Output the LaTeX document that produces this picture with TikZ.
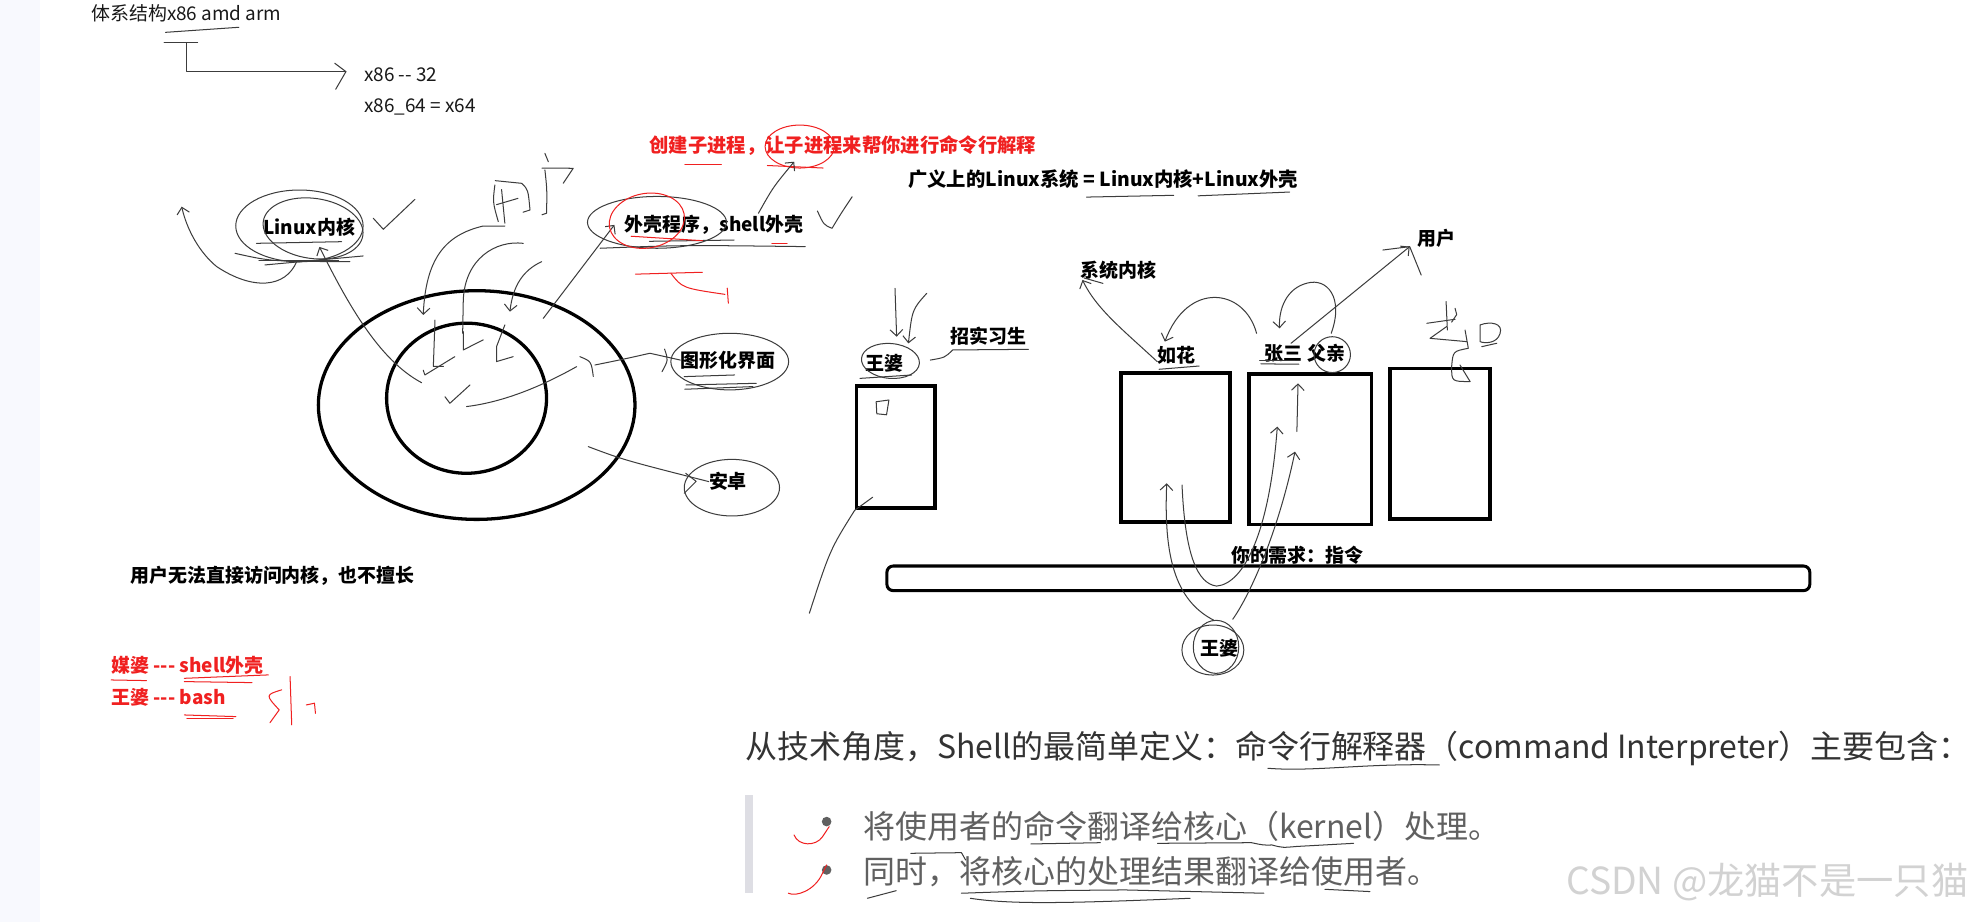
\documentclass[tikz,border=0pt]{standalone}
\usepackage{fontspec}
\setmainfont{Noto Sans CJK SC}
\usetikzlibrary{arrows.meta, positioning, calc}
\definecolor{inkred}{RGB}{240,32,32}
\definecolor{pencil}{RGB}{60,60,60}
\definecolor{margin}{RGB}{248,249,254}
\definecolor{bodytext}{RGB}{51,51,51}
\definecolor{listtext}{RGB}{96,96,96}
\definecolor{quotebar}{RGB}{222,222,228}
\definecolor{wmark}{RGB}{210,210,210}
\newcommand{\fsz}[1]{\fontsize{#1}{#1}\selectfont}
\tikzset{
  lbl/.style={font=\bfseries\fsz{15}, inner sep=0pt, anchor=west},
  redlbl/.style={lbl, text=inkred},
  note/.style={font=\fsz{15}, inner sep=0pt, anchor=west, text=black!90},
  pen/.style={draw=pencil, line width=0.8pt, line cap=round, line join=round},
  redpen/.style={draw=inkred, line width=0.8pt, line cap=round, line join=round},
  heavy/.style={draw=black, line width=2.6pt},
  boxnode/.style={draw=black, line width=3pt, inner sep=0pt},
  barb/.style={-{Straight Barb[length=5pt, width=10pt]}},
}

\begin{document}
\begin{tikzpicture}[x=1pt, y=-1pt]
  \fill[white] (0,0) rectangle (1568,730);
  \fill[margin] (0,0) rectangle (32,730);
  \useasboundingbox (0,0) rectangle (1568,730);

  \node[note] (arch) at (72,10.6) {体系结构x86 amd arm};
  \node[note] (x32) at (288,59.4) {x86 {-}{-} 32};
  \node[note] (x64) at (288,84.4) {x86\_64 = x64};
  \coordinate (fork) at (147.7,33.8);
  \coordinate (archtip) at (273.8,56.7);
  \draw[pen] (131,25.6) -- (189,21.6);
  \draw[pen] (130,33.8) -- (156.5,33.8);
  \draw[pen] (fork) |- (archtip);
  \draw[pen] (265,50.1) -- (archtip) -- (265.7,70.7);

  \node[lbl] (kern) at (208.4,180) {Linux内核};
  \draw[pen] (237,178.8) ellipse [x radius=50.4, y radius=28.4];
  \draw[pen] (247.8,180.8) ellipse [x radius=39.8, y radius=23.8, rotate=-8];
  \draw[pen] (203,192.6) -- (270.4,191.3);
  \draw[pen] (186,200.5) .. controls (215,207) .. (277,207);
  \draw[pen] (209.7,209.7) -- (287.5,202.6);
  \draw[pen] (205,206) -- (268,206);
  \draw[pen, barb] (234.8,207.1) .. controls (226,228) and (200,230) .. (171.5,211) .. controls (158,200) and (148,182) .. (143.8,163.6);
  \draw[pen] (295.5,172.8) -- (303.4,181.5) -- (328.4,157.8);

  \draw[pen] (391.7,146.4) .. controls (390,160) .. (394.4,175.4);
  \draw[pen] (392,143) -- (412.9,145.1) .. controls (418,150) .. (419.5,166.2) -- (414,168);
  \draw[pen] (393,162) -- (410,157);
  \draw[pen] (397,150) -- (399.6,176.7);
  \draw[pen] (431.3,121.4) -- (434,128);
  \draw[pen] (429,133) -- (453.7,133.2) -- (445.8,145.1);
  \draw[pen] (431.3,134.5) .. controls (433,150) .. (432.6,168.8) -- (429,170);

  \draw[heavy] (377.3,320.6) ellipse [x radius=125.3, y radius=90.5];
  \draw[heavy] (369.3,315.2) ellipse [x radius=63.3, y radius=59.4];
  \draw[pen, barb] (399.6,178.9) -- (382.5,178.9) .. controls (352,186) and (337,205) .. (335,249.3);
  \draw[pen] (414.2,192.6) .. controls (392,190) and (368,205) .. (366.7,237.4) -- (366.2,263.8);
  \draw[pen, barb] (428.7,207.1) .. controls (414,214) and (406,226) .. (403.6,246.7);
  \draw[pen, barb] (333.7,302.9) .. controls (300,285) and (275,240) .. ([xshift=8pt, yshift=-8pt]kern.south);
  \draw[pen] (344.3,253.3) -- (343,290) -- (351,290);
  \draw[pen] (335,293) -- (336.3,296.8) -- (360,282.3);
  \draw[pen] (366.7,262.5) -- (366.7,277) -- (382.5,269);
  \draw[pen] (399.6,257.2) -- (393,274.4) -- (393,286.2) -- (406.2,282.3);
  \draw[pen] (352.2,314) -- (356.1,319.2) -- (372,304.7);

  \node[lbl] (gui) at (538.5,285) {图形化界面};
  \draw[pen] (577.6,286.2) ellipse [x radius=46.6, y radius=22.4];
  \draw[pen] (541.5,298.1) -- (581.4,296.8);
  \draw[pen] (543,304.7) -- (598.6,303.4);
  \draw[pen] (542,308.1) -- (596,306);
  \draw[pen] (369.3,321.8) .. controls (400,318) and (430,305) .. (456.4,290.2);
  \draw[pen] (459,282.3) .. controls (468,286) .. (469.6,298);
  \draw[pen] (470.9,288.9) .. controls (495,284) .. (514.4,279.6) -- (gui.west);
  \draw[pen] (526,276.3) .. controls (529,285) .. (524,294.2);

  \node[lbl] (andr) at (561,381.2) {安卓};
  \draw[pen] (579.3,386) ellipse [x radius=37.7, y radius=22.4];
  \draw[pen] (465.6,353.5) .. controls (493.5,364) .. (andr.west);
  \draw[pen] (542.7,374.6) -- (551,381) -- (541.5,390.5);

  \node[lbl] (shell) at (494.3,178) {外壳程序，shell外壳};
  \draw[pen] (520,176) ellipse [x radius=55, y radius=20.5];
  \draw[pen] (475,196.5) .. controls (540,194) .. (637.4,195.2);
  \draw[pen] (514,191) -- (581,190);
  \draw[pen, barb] (430,252) -- ([xshift=-8pt]shell.west);
  \draw[redpen] (512,174.7) ellipse [x radius=30, y radius=21.6, rotate=10];
  \draw[redpen] (499.6,187) -- (556,190.5);
  \draw[redpen] (611,193) -- (623,193);
  \draw[redpen] (503,217) -- (556,215.5);
  \draw[redpen] (531,216.3) .. controls (540,228) .. (573.8,233);
  \draw[redpen] (575.6,228) -- (576.5,240);
  \draw[pen] (647,167) .. controls (652,178) .. (658.6,180.7) .. controls (665,170) .. (674.5,155.7);

  \node[redlbl, font=\bfseries\fsz{15.3}] (spawn) at (513.8,115.6) {创建子进程，让子进程来帮你进行命令行解释};
  \draw[redpen] (633,116) ellipse [x radius=27.4, y radius=17];
  \draw[redpen] (542,130) -- (571,130);
  \draw[redpen] (607.4,131) -- (651.5,133);
  \draw[pen, barb] (600.3,168.8) .. controls (612,148) .. (628.6,128);

  \node[lbl, font=\bfseries\fsz{15.3}] (defn) at (718.7,142) {广义上的Linux系统 = Linux内核+Linux外壳};
  \draw[pen] (860,156) -- (929,154.6);
  \draw[pen] (948.3,155) -- (1020.8,152);

  \node[lbl] (nouser) at (103,455.9) {用户无法直接访问内核，也不擅长};
  \node[redlbl] (mp) at (88,526.3) {媒婆 {-}{-}{-} shell外壳};
  \node[redlbl] (wpb) at (88,551.9) {王婆 {-}{-}{-} bash};
  \draw[redpen] (88,538.2) -- (115.9,538.7);
  \draw[redpen] (145.9,536.9) -- (212.4,534.2);
  \draw[redpen] (145.9,539.5) -- (199.5,540.3);
  \draw[redpen] (145.9,565.9) -- (186.7,567.2);
  \draw[redpen] (148,568.5) -- (184.5,568.5);
  \draw[redpen] (223,546) .. controls (210,550) .. (221,561.9) -- (213.7,572);
  \draw[redpen] (229.6,535.5) -- (230.9,573.8);
  \draw[redpen] (242.4,558) -- (248.9,556.6) -- (249.7,564.6);

  \node[boxnode, minimum width=62pt, minimum height=97pt] (wpbox) at (709,353.9) {};
  \node[lbl] (wp1) at (685,287.5) {王婆};
  \node[lbl] (intern) at (752,266) {招实习生};
  \draw[pen] (704.8,285.7) ellipse [x radius=23, y radius=13.8, rotate=-5];
  \draw[pen] (680.7,299.5) -- (721.6,296.8);
  \draw[pen, barb] (708.4,228.2) -- (709.7,266.5);
  \draw[pen, barb] (733.5,232.2) .. controls (722,245) .. (719,271.8);
  \draw[pen] (736.4,285) .. controls (748,283) .. (754,277) -- (814,276.5);
  \draw[pen] (693.5,318) -- (703.6,316.6) -- (701.7,328.3) -- (694,327.5) -- cycle;
  \draw[pen] (690.7,393.6) -- (wpbox.south west) .. controls (657,435) .. (640.6,485.4);

  \node[boxnode, minimum width=86pt, minimum height=118pt] (ruhua) at (930.3,354.3) {};
  \node[boxnode, minimum width=97pt, minimum height=119pt] (zhang) at (1037,355.7) {};
  \node[boxnode, minimum width=79pt, minimum height=119pt] (third) at (1140,351.2) {};
  \node[lbl] (rhl) at (915.9,281) {如花};
  \node[lbl] (zsl) at (1000.7,279.6) {张三};
  \node[lbl] (fql) at (1034.6,279.6) {父亲};
  \node[lbl] (sysk) at (855.3,213.7) {系统内核};
  \node[lbl] (user) at (1121.9,188.6) {用户};
  \draw[pen] (917.4,292.3) -- (949.2,289.7);
  \draw[pen] (997,285) -- (1025,285);
  \draw[pen] (998,288) -- (1028,288.3);
  \draw[pen] (1054.5,280.7) ellipse [x radius=14.4, y radius=14.2];
  \draw[pen, barb] (915.9,286.2) .. controls (890,262) and (868,245) .. (856.8,221.6);
  \draw[pen] (858,220) -- (873,224.3);
  \draw[pen, barb] (994.6,263.8) .. controls (985,228) and (940,222) .. (922,270.4);
  \draw[pen, barb] (1053.7,263.8) .. controls (1064,235) and (1050,220) .. (1035,224) .. controls (1018,228) and (1012,245) .. (1012.8,259.9);
  \draw[pen, barb] (1021.9,271.7) -- (1115.8,195.2);
  \draw[pen] (1094.6,197.9) -- (1115.8,195.2) -- (1124.9,217.7);

  \draw[pen] (1129.3,255.9) -- (1151.7,252.7);
  \draw[pen] (1144.6,238.7) -- (1145.6,261.2);
  \draw[pen] (1151.7,244) -- (1153,249) -- (1149,255);
  \draw[pen] (1145,258.5) -- (1131.9,267.8) -- (1160.9,270.4);
  \draw[pen] (1159.6,261.2) -- (1162.2,275.7) .. controls (1150,278) .. (1149,290.2) .. controls (1149,302) .. (1163.6,302) .. controls (1160,295) .. (1155.6,288.9);
  \draw[pen] (1171.5,257.2) .. controls (1180,254) and (1190,256) .. (1187.3,264) .. controls (1185,272) and (1175,272) .. (1171.5,270.4) -- cycle;
  \draw[pen] (1172.8,274.4) -- (1184.7,271.7);

  \draw[heavy, line width=2.4pt, rounded corners=5pt] (702,448) rectangle (1432.5,467.5);
  \node[lbl] (need) at (974.2,439.3) {你的需求：指令};
  \node[lbl] (wp2) at (950.4,513.2) {王婆};
  \draw[pen] (960,514.5) ellipse [x radius=24.5, y radius=19.8];
  \draw[pen] (962.5,512) ellipse [x radius=18, y radius=21];
  \draw[pen, barb] (960.5,490.8) .. controls (930,475) and (921,440) .. (923.5,382.5);
  \draw[pen, barb] (935.6,383.9) .. controls (938,440) and (948,462) .. (963,463.9) .. controls (985,462) and (1005,420) .. (1011,337.7);
  \draw[pen, barb] (975.7,490.2) .. controls (990,470) and (1012,420) .. (1025,357.5);
  \draw[pen, barb] (1026.5,341.6) -- (1027.4,303.4);

  \node[inner sep=0pt, anchor=west, font=\fsz{25.3}, text=bodytext] (defs) at (589.7,592.3) {从技术角度，Shell的最简单定义：命令行解释器（command Interpreter）主要包含：};
  \draw[pen] (1003.5,608.1) .. controls (1040,611) and (1080,604) .. (1139.3,605.5);
  \fill[quotebar] (589.7,629.2) rectangle (596.1,707);
  \fill[listtext] (654.3,650.3) circle (3.8);
  \fill[listtext] (654.3,688.6) circle (3.8);
  \node[inner sep=0pt, anchor=west, font=\fsz{25.3}, text=listtext] (item1) at (683.4,654.3) {将使用者的命令翻译给核心（kernel）处理。};
  \node[inner sep=0pt, anchor=west, font=\fsz{25.3}, text=listtext] (item2) at (683.4,689.9) {同时，将核心的处理结果翻译给使用者。};
  \draw[redpen] (628.5,660.9) .. controls (632,670) and (646,670) .. (651.1,662.2) -- (656.3,654.3);
  \draw[redpen] (624,707) .. controls (630,710) and (645,705) .. (651,691.2) -- (654.3,684.6);
  \draw[pen] (816,668) -- (871,667);
  \draw[pen] (916.2,667.5) -- (990.6,667) .. controls (1000,669) .. (1006.7,668.8) .. controls (1015,671) .. (1026.1,670) -- (1071.4,667.5);
  \draw[pen] (720.9,675.4) -- (761,674.9) -- (764.3,680.7);
  \draw[pen] (686.6,711) -- (709.3,705);
  \draw[pen] (761,707) .. controls (820,705) .. (890.3,704.4) -- (1000.3,707);
  \draw[pen] (768,711) .. controls (800,716) and (845,715) .. (942,711);
  \draw[pen] (1048.7,703.9) -- (1084.3,705.7);
  \node[inner sep=0pt, anchor=west, font=\fsz{29.5}, text=wmark] (wm) at (1239.5,697.8) {CSDN @龙猫不是一只猫};
\end{tikzpicture}
\end{document}
